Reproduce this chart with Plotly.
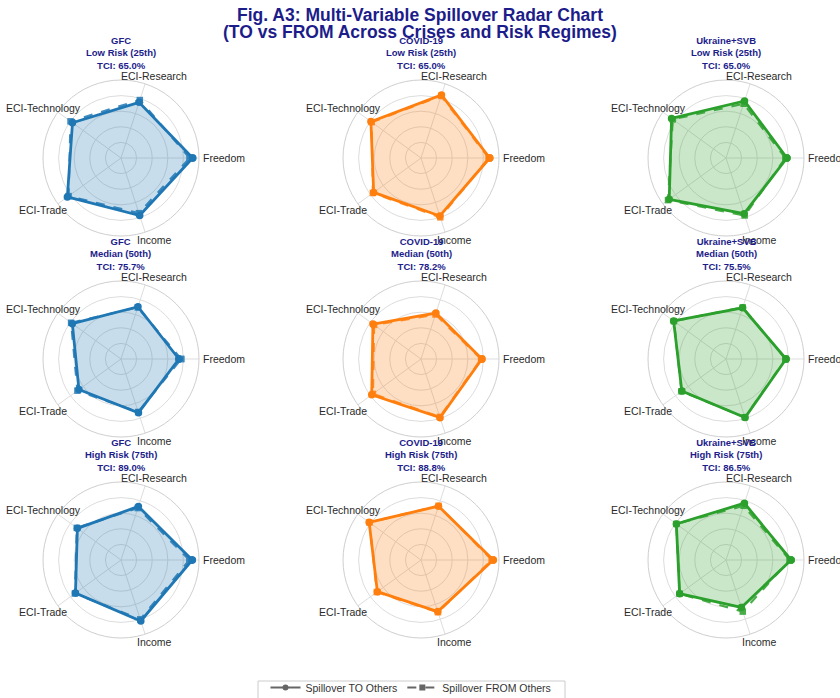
import plotly.graph_objects as go

# Spillover variables (angular axis order, counter-clockwise from 0 deg)
categories = ["Freedom", "ECI-Research", "ECI-Technology", "ECI-Trade", "Income"]
crises = ["GFC", "COVID-19", "Ukraine+SVB"]
regimes = ["Low Risk (25th)", "Median (50th)", "High Risk (75th)"]

# Total connectedness index (%) per regime and crisis
tci_low = [65.0, 65.0, 65.0]
tci_median = [75.7, 78.2, 75.5]
tci_high = [89.0, 88.8, 86.5]

# Directional spillovers TO others (%), one list per crisis
to_low = {
    "GFC": [73.5, 60.0, 61.5, 68.0, 62.0],
    "COVID-19": [70.5, 68.0, 63.5, 60.0, 62.5],
    "Ukraine+SVB": [62.5, 61.5, 69.0, 72.0, 60.0],
}
to_median = {
    "GFC": [78.0, 74.0, 81.0, 70.0, 76.0],
    "COVID-19": [82.0, 65.0, 80.0, 82.0, 83.0],
    "Ukraine+SVB": [77.0, 69.0, 83.0, 70.0, 79.0],
}
to_high = {
    "GFC": [105.0, 83.0, 79.5, 83.0, 94.5],
    "COVID-19": [106.5, 83.5, 94.5, 79.5, 80.0],
    "Ukraine+SVB": [96.0, 88.0, 90.5, 84.5, 73.5],
}

# Directional spillovers FROM others (%)
from_low = {
    "GFC": [70.5, 62.5, 64.0, 66.5, 59.5],
    "COVID-19": [69.5, 67.0, 62.5, 61.0, 64.0],
    "Ukraine+SVB": [61.0, 58.5, 67.5, 73.5, 62.0],
}
from_median = {
    "GFC": [81.0, 73.0, 83.0, 72.5, 75.0],
    "COVID-19": [81.0, 63.0, 78.0, 80.0, 82.0],
    "Ukraine+SVB": [76.5, 69.5, 82.5, 70.5, 78.5],
}
from_high = {
    "GFC": [101.0, 80.5, 80.5, 84.0, 92.0],
    "COVID-19": [104.5, 84.0, 94.0, 80.5, 81.0],
    "Ukraine+SVB": [94.0, 84.0, 90.5, 84.5, 80.0],
}

tci_rows = [tci_low, tci_median, tci_high]
to_rows = [to_low, to_median, to_high]
from_rows = [from_low, from_median, from_high]

# Styling / layout
W, H = 840, 698
colors = {"GFC": "#1f77b4", "COVID-19": "#ff7f0e", "Ukraine+SVB": "#2ca02c"}
fills = {"GFC": "rgba(31,119,180,0.25)", "COVID-19": "rgba(255,127,14,0.25)",
         "Ukraine+SVB": "rgba(44,160,44,0.25)"}
radial_max = [[80, 80, 80], [105, 105, 100], [115, 115, 115]]
col_cx = [121, 421, 726]
row_cy = [158, 359, 560]
RAD = 78          # polar radius in px
# centre offsets (px) of the category labels around each polar
label_offsets = {
    "ECI-Research": (33, -82),
    "ECI-Technology": (-78, -50),
    "ECI-Trade": (-78, 52),
    "Income": (33, 82),
}
TITLE_BLUE = "#1c1c8a"
FONT = "Liberation Sans, Arial, sans-serif"


def px(x, y):
    """pixel position -> paper coordinates"""
    return x / W, (H - y) / H


fig = go.Figure()
layout_polars = {}
annotations = []

k = 0
for i, regime in enumerate(regimes):
    for j, crisis in enumerate(crises):
        k += 1
        sub = "polar" if k == 1 else f"polar{k}"
        cx, cy = col_cx[j], row_cy[i]
        col = colors[crisis]

        to_vals = to_rows[i][crisis]
        from_vals = from_rows[i][crisis]
        theta = categories + categories[:1]

        fig.add_trace(go.Scatterpolar(
            r=to_vals + to_vals[:1], theta=theta, subplot=sub,
            mode="lines+markers", fill="toself", fillcolor=fills[crisis],
            line=dict(color=col, width=2.8),
            marker=dict(symbol="circle", size=7.5, color=col),
            showlegend=False, hoverinfo="skip",
        ))
        fig.add_trace(go.Scatterpolar(
            r=from_vals + from_vals[:1], theta=theta, subplot=sub,
            mode="lines+markers",
            line=dict(color=col, width=2.2, dash="dash"),
            marker=dict(symbol="square", size=6.5, color=col),
            opacity=0.85,
            showlegend=False, hoverinfo="skip",
        ))

        rmax = radial_max[i][j]
        x0, y0 = px(cx - RAD, cy + RAD)
        x1, y1 = px(cx + RAD, cy - RAD)
        layout_polars[sub] = dict(
            domain=dict(x=[x0, x1], y=[y0, y1]),
            bgcolor="white",
            radialaxis=dict(range=[0, rmax], tickvals=[rmax * t / 5 for t in range(1, 5)],
                            showticklabels=False, ticks="", showline=False,
                            gridcolor="#dddddd", gridwidth=1),
            angularaxis=dict(rotation=0, direction="counterclockwise",
                             categoryorder="array", categoryarray=categories,
                             showline=True, linecolor="#cfcfcf", linewidth=1,
                             gridcolor="#dddddd", gridwidth=1, ticks="",
                             showticklabels=False),
        )

        # category labels around the circle
        for cat in categories:
            if cat == "Freedom":
                lx, ly = px(cx + RAD + 2, cy)
                xanc = "left"
            else:
                dx, dy = label_offsets[cat]
                lx, ly = px(cx + dx, cy + dy)
                xanc = "center"
            annotations.append(dict(
                text=cat, x=lx, y=ly, xref="paper", yref="paper",
                xanchor=xanc, yanchor="middle", showarrow=False,
                font=dict(size=10.5, color="#2a2a2a", family=FONT),
            ))

        tci = tci_rows[i][j]
        tx, ty = px(cx, cy - RAD - 7)
        annotations.append(dict(
            text=f"<b>{crisis}<br>{regime}<br>TCI: {tci:.1f}%</b>",
            x=tx, y=ty, xref="paper", yref="paper",
            xanchor="center", yanchor="bottom", showarrow=False, align="center",
            font=dict(size=9.5, color=TITLE_BLUE, family=FONT),
        ))

# Legend entries drawn in neutral grey
fig.add_trace(go.Scatterpolar(
    r=[None], theta=[None], subplot="polar", mode="lines+markers",
    name="Spillover TO Others", line=dict(color="#666666", width=2),
    marker=dict(symbol="circle", size=6, color="#666666"),
))
fig.add_trace(go.Scatterpolar(
    r=[None], theta=[None], subplot="polar", mode="lines+markers",
    name="Spillover FROM Others", line=dict(color="#666666", width=2, dash="dash"),
    marker=dict(symbol="square", size=6, color="#666666"),
))

for text, ypix in [("<b>Fig. A3: Multi-Variable Spillover Radar Chart</b>", 15),
                   ("<b>(TO vs FROM Across Crises and Risk Regimes)</b>", 32)]:
    tx, ty = px(W / 2, ypix)
    annotations.append(dict(
        text=text, x=tx, y=ty, xref="paper", yref="paper",
        xanchor="center", yanchor="middle", showarrow=False,
        font=dict(size=17.5, color=TITLE_BLUE, family=FONT),
    ))

# frame around the legend entries
bx0, by0 = px(258, 700)
bx1, by1 = px(565, 681)
legend_frame = dict(type="rect", xref="paper", yref="paper",
                    x0=bx0, y0=by0, x1=bx1, y1=by1,
                    line=dict(color="#cccccc", width=1), fillcolor="white", layer="above")

lgx, lgy = px(411, 673)
fig.update_layout(
    width=W, height=H,
    margin=dict(l=0, r=0, t=0, b=0, autoexpand=False),
    paper_bgcolor="white", plot_bgcolor="white",
    font=dict(family=FONT),
    annotations=annotations,
    shapes=[legend_frame],
    showlegend=True,
    legend=dict(orientation="h", x=lgx, xanchor="center", y=lgy, yanchor="top",
                borderwidth=0, bgcolor="rgba(0,0,0,0)",
                itemwidth=30, tracegroupgap=0,
                font=dict(size=10.5, color="#333333", family=FONT)),
    **layout_polars,
)

fig.write_html("out.html")
